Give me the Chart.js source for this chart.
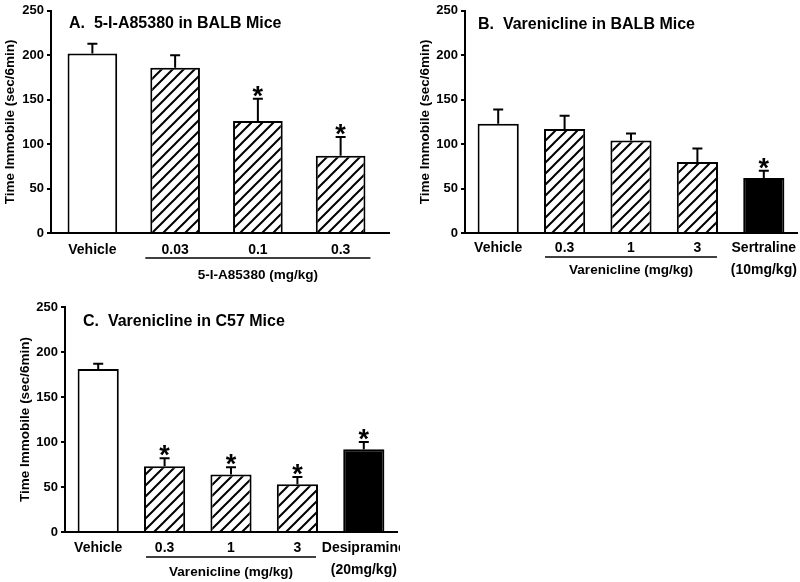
<!DOCTYPE html>
<html>
<head>
<meta charset="utf-8">
<script src="https://cdn.jsdelivr.net/npm/chart.js"></script>
<style>
  body { margin: 0; background: #fff; }
  #wrap { position: relative; width: 800px; height: 582px; }
  .panel { position: absolute; }
</style>
</head>
<body>
<div id="wrap">
  <div class="panel" style="left:0;top:0;width:400px;height:290px"><canvas id="chartA"></canvas></div>
  <div class="panel" style="left:400px;top:0;width:400px;height:290px"><canvas id="chartB"></canvas></div>
  <div class="panel" style="left:0;top:290px;width:400px;height:292px"><canvas id="chartC"></canvas></div>
</div>
<script>
// Panel A: 5-I-A85380 in BALB mice
const labelsA = ['Vehicle', '0.03', '0.1', '0.3'];
const meansA = [202, 186, 126, 87];
const semA = [11, 14, 25, 21];
const starsA = [false, false, true, true];
const fillsA = ['open', 'hatch', 'hatch', 'hatch'];

// Panel B: varenicline in BALB mice
const labelsB = ['Vehicle', '0.3', '1', '3', ['Sertraline', '(10mg/kg)']];
const meansB = [123, 117, 104, 80, 62];
const semB = [16, 15, 8, 15, 8];
const starsB = [false, false, false, false, true];
const fillsB = ['open', 'hatch', 'hatch', 'hatch', 'solid'];

// Panel C: varenicline in C57 mice
const labelsC = ['Vehicle', '0.3', '1', '3', ['Desipramine', '(20mg/kg)']];
const meansC = [181, 73, 64, 53, 92];
const semC = [6, 9, 8, 8, 8];
const starsC = [false, true, true, true, true];
const fillsC = ['open', 'hatch', 'hatch', 'hatch', 'solid'];

const yTicks = [0, 50, 100, 150, 200, 250];
const FONT = 'Arial, "Liberation Sans", sans-serif';

function hatchPattern() {
  const c = document.createElement('canvas');
  c.width = 11; c.height = 11;
  const g = c.getContext('2d');
  g.fillStyle = '#fff';
  g.fillRect(0, 0, 11, 11);
  g.strokeStyle = '#000';
  g.lineWidth = 2;
  g.beginPath();
  g.moveTo(-2, 13); g.lineTo(13, -2);
  g.moveTo(-2, 2); g.lineTo(2, -2);
  g.moveTo(9, 13); g.lineTo(13, 9);
  g.stroke();
  return g.createPattern(c, 'repeat');
}

const extras = {
  id: 'extras',
  afterDatasetsDraw(chart) {
    const o = chart.options.plugins.extras;
    const ctx = chart.ctx;
    const y = chart.scales.y;
    const bars = chart.getDatasetMeta(0).data;
    const area = chart.chartArea;
    ctx.save();
    ctx.strokeStyle = '#000';
    ctx.fillStyle = '#000';
    // x axis runs a little past the last category
    if (o.axisExt > 0) {
      const yb = Math.round(area.bottom);
      ctx.lineWidth = 2;
      ctx.beginPath();
      ctx.moveTo(area.right - 4, yb);
      ctx.lineTo(area.right + o.axisExt, yb);
      ctx.stroke();
    }
    // error bars (upper only) and significance stars
    ctx.lineWidth = 2;
    bars.forEach((bar, i) => {
      const top = y.getPixelForValue(o.means[i] + o.sem[i]);
      ctx.beginPath();
      ctx.moveTo(bar.x, bar.y);
      ctx.lineTo(bar.x, top);
      ctx.moveTo(bar.x - 5, top);
      ctx.lineTo(bar.x + 5, top);
      ctx.stroke();
      if (o.stars[i]) {
        ctx.font = 'bold 27px ' + FONT;
        ctx.textAlign = 'center';
        ctx.textBaseline = 'alphabetic';
        const m = ctx.measureText('*');
        ctx.fillText('*', bar.x, top - 2 - m.actualBoundingBoxDescent);
      }
    });
    // panel title
    ctx.font = 'bold 16px ' + FONT;
    ctx.textAlign = 'left';
    ctx.textBaseline = 'middle';
    ctx.fillText(o.title, area.left + o.titleDx, area.top + o.titleDy);
    // dose group underline and label
    const first = bars[o.group[0]];
    const last = bars[o.group[1]];
    const x0 = first.x - first.width / 2 - o.lineExt;
    const x1 = last.x + last.width / 2 + o.lineExt;
    ctx.lineWidth = 1.6;
    ctx.beginPath();
    ctx.moveTo(x0, area.bottom + o.lineDy);
    ctx.lineTo(x1, area.bottom + o.lineDy);
    ctx.stroke();
    ctx.font = 'bold 13.5px ' + FONT;
    ctx.textAlign = 'center';
    ctx.fillText(o.groupLabel, (x0 + x1) / 2, area.bottom + o.labelDy);
    ctx.restore();
  }
};

function makeChart(id, p) {
  const hatch = hatchPattern();
  const bg = p.fills.map(f => f === 'hatch' ? hatch : (f === 'solid' ? '#000' : '#fff'));
  return new Chart(document.getElementById(id), {
    type: 'bar',
    data: {
      labels: p.labels,
      datasets: [{
        data: p.means,
        backgroundColor: bg,
        borderColor: '#000',
        borderWidth: 2,
        categoryPercentage: 1,
        barPercentage: p.barPct
      }]
    },
    options: {
      responsive: true,
      maintainAspectRatio: false,
      animation: false,
      layout: { padding: { left: 0, right: p.right, top: p.top, bottom: 0 } },
      plugins: {
        legend: { display: false },
        tooltip: { enabled: false },
        extras: {
          means: p.means, sem: p.sem, stars: p.stars,
          title: p.title, titleDx: p.titleDx, titleDy: p.titleDy,
          group: [1, 3], groupLabel: p.groupLabel, axisExt: p.axisExt,
          lineExt: p.lineExt, lineDy: p.lineDy, labelDy: p.labelDy
        }
      },
      scales: {
        x: {
          grid: { display: false, drawTicks: false, tickLength: 0 },
          border: { color: '#000', width: 2 },
          ticks: {
            color: '#000', padding: p.tickPad,
            font: { family: FONT, size: 14, weight: 'bold', lineHeight: 22 / 14 },
            maxRotation: 0, autoSkip: false
          },
          afterFit(s) {
            s.height = p.xHeight;
            // let long end labels overflow instead of shrinking the plot
            s.paddingLeft = 0;
            s.paddingRight = 0;
          }
        },
        y: {
          min: 0, max: 250,
          afterBuildTicks(s) { s.ticks = yTicks.map(v => ({ value: v })); },
          grid: { drawOnChartArea: false, tickLength: 4, color: '#000', lineWidth: 2 },
          border: { color: '#000', width: 2 },
          ticks: { color: '#000', padding: 3, font: { family: FONT, size: 13, weight: 'bold' } },
          title: {
            display: true, text: 'Time Immobile (sec/6min)', color: '#000',
            font: { family: FONT, size: 13.5, weight: 'bold' },
            padding: { top: p.yTitlePad, bottom: 0 }
          },
          afterFit(s) { s.width = p.yWidth; }
        }
      }
    },
    plugins: [extras]
  });
}

makeChart('chartA', {
  labels: labelsA, means: meansA, sem: semA, stars: starsA, fills: fillsA,
  title: 'A.  5-I-A85380 in BALB Mice', titleDx: 18, titleDy: 13,
  groupLabel: '5-I-A85380 (mg/kg)', lineExt: 5, lineDy: 25, labelDy: 42, axisExt: 8,
  barPct: 0.6, right: 18, top: 10, xHeight: 57, tickPad: 6, yWidth: 51, yTitlePad: 2
});

makeChart('chartB', {
  labels: labelsB, means: meansB, sem: semB, stars: starsB, fills: fillsB,
  title: 'B.  Varenicline in BALB Mice', titleDx: 13, titleDy: 14,
  groupLabel: 'Varenicline (mg/kg)', lineExt: -1, lineDy: 24, labelDy: 37, axisExt: 0,
  barPct: 0.62, right: 3, top: 9, xHeight: 57, tickPad: 4, yWidth: 65, yTitlePad: 17
});

makeChart('chartC', {
  labels: labelsC, means: meansC, sem: semC, stars: starsC, fills: fillsC,
  title: 'C.  Varenicline in C57 Mice', titleDx: 18, titleDy: 15,
  groupLabel: 'Varenicline (mg/kg)', lineExt: -2, lineDy: 25, labelDy: 40, axisExt: 0,
  barPct: 0.62, right: 3, top: 17, xHeight: 50, tickPad: 5, yWidth: 65, yTitlePad: 17
});
</script>
</body>
</html>
